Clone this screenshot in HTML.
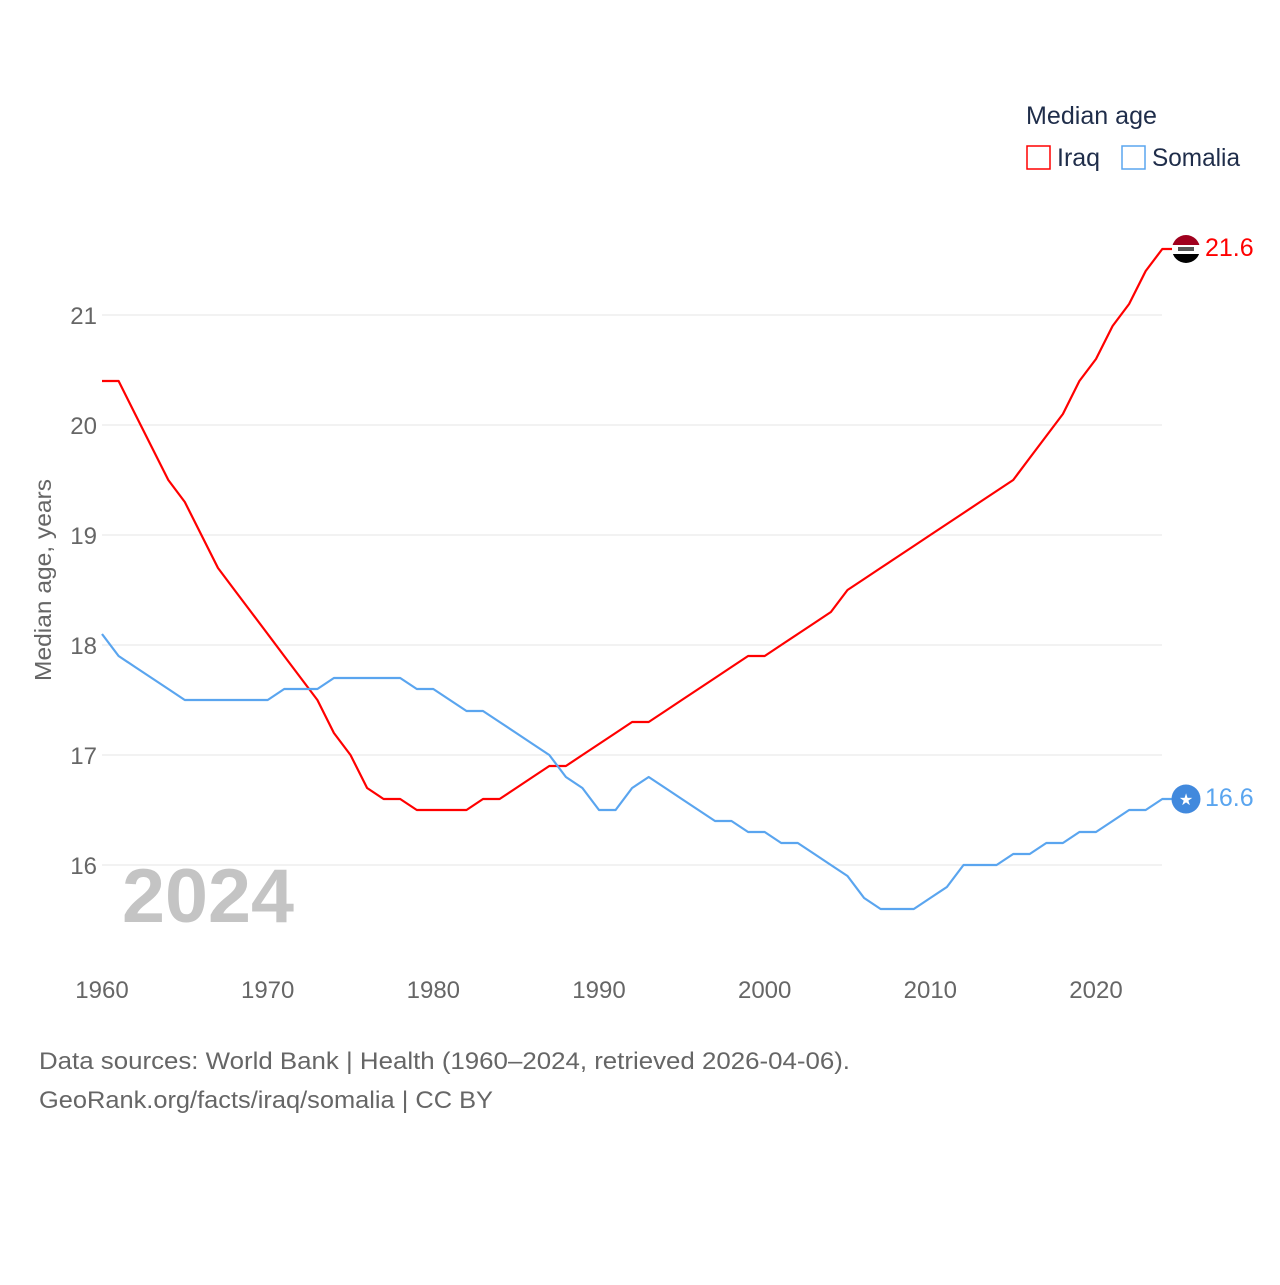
<!DOCTYPE html>
<html><head><meta charset="utf-8"><style>
body{margin:0;background:#fff;}
svg text{font-family:"Liberation Sans",sans-serif;}
</style></head><body>
<svg width="1280" height="1280" xmlns="http://www.w3.org/2000/svg">
<g id="grid"></g>
<g id="yticks"></g>
<g id="xticks"></g>
<text transform="translate(51,580) rotate(-90)" text-anchor="middle" font-size="23" fill="#666" textLength="202" lengthAdjust="spacingAndGlyphs">Median age, years</text>
<text x="122" y="922" font-size="76" font-weight="bold" fill="#c4c4c4" textLength="172" lengthAdjust="spacingAndGlyphs">2024</text>
<g id="series"></g>
<g>
<text x="1026" y="124" font-size="25" fill="#1f2d4a" textLength="131" lengthAdjust="spacingAndGlyphs">Median age</text>
<rect x="1027" y="146" width="23" height="23" fill="none" stroke="#ff0000" stroke-width="1.5"/>
<text x="1057" y="166" font-size="25" fill="#1f2d4a">Iraq</text>
<rect x="1122" y="146" width="23" height="23" fill="none" stroke="#5aa5ef" stroke-width="1.5"/>
<text x="1152" y="166" font-size="25" fill="#1f2d4a" textLength="88" lengthAdjust="spacingAndGlyphs">Somalia</text>
</g>
<text x="39" y="1069" font-size="24" fill="#666" textLength="811" lengthAdjust="spacingAndGlyphs">Data sources: World Bank | Health (1960–2024, retrieved 2026-04-06).</text>
<text x="39" y="1108" font-size="24" fill="#666" textLength="454" lengthAdjust="spacingAndGlyphs">GeoRank.org/facts/iraq/somalia | CC BY</text>
</svg>
<script>
const years=[];for(let y=1960;y<=2024;y++)years.push(y);
const iraq=[20.4,20.4,20.1,19.8,19.5,19.3,19.0,18.7,18.5,18.3,18.1,17.9,17.7,17.5,17.2,17.0,16.7,16.6,16.6,16.5,16.5,16.5,16.5,16.6,16.6,16.7,16.8,16.9,16.9,17.0,17.1,17.2,17.3,17.3,17.4,17.5,17.6,17.7,17.8,17.9,17.9,18.0,18.1,18.2,18.3,18.5,18.6,18.7,18.8,18.9,19.0,19.1,19.2,19.3,19.4,19.5,19.7,19.9,20.1,20.4,20.6,20.9,21.1,21.4,21.6];
const somalia=[18.1,17.9,17.8,17.7,17.6,17.5,17.5,17.5,17.5,17.5,17.5,17.6,17.6,17.6,17.7,17.7,17.7,17.7,17.7,17.6,17.6,17.5,17.4,17.4,17.3,17.2,17.1,17.0,16.8,16.7,16.5,16.5,16.7,16.8,16.7,16.6,16.5,16.4,16.4,16.3,16.3,16.2,16.2,16.1,16.0,15.9,15.7,15.6,15.6,15.6,15.7,15.8,16.0,16.0,16.0,16.1,16.1,16.2,16.2,16.3,16.3,16.4,16.5,16.5,16.6];
const yTicks=[16,17,18,19,20,21];
const xTicks=[1960,1970,1980,1990,2000,2010,2020];
const NS="http://www.w3.org/2000/svg";
const xs=y=>102+(y-1960)*(1096-102)/60;
const ys=v=>865-(v-16)*110;
function mk(tag,attrs,parent){const e=document.createElementNS(NS,tag);for(const k in attrs)e.setAttribute(k,attrs[k]);parent.appendChild(e);return e;}
const grid=document.getElementById('grid'),yt=document.getElementById('yticks'),xt=document.getElementById('xticks'),ser=document.getElementById('series');
yTicks.forEach(v=>{
 const l=mk('line',{x1:102,x2:1162,y1:ys(v),y2:ys(v),stroke:'#e6e6e6','stroke-width':1},grid);
 
 
 const t=mk('text',{x:97,y:ys(v)+9,'text-anchor':'end','font-size':24,fill:'#666'},yt);
 t.textContent=v;
 
 
});
xTicks.forEach(v=>{
 const t=mk('text',{x:xs(v),y:998,'text-anchor':'middle','font-size':24,fill:'#666'},xt);
 t.textContent=v;
 
 
});
function series(vals,color,name){
 let d=vals.map((v,i)=>(i?'L':'M')+xs(years[i]).toFixed(1)+' '+ys(v).toFixed(1)).join(' ');
 const last=vals[vals.length-1];
 d+=' L'+(xs(2024)+10)+' '+ys(last);
 const p=mk('path',{d:d,fill:'none',stroke:color,'stroke-width':2.2,'stroke-linejoin':'round'},ser);
 
 
 return last;
}
const li=series(iraq,'#ff0000','iraq');
const ls=series(somalia,'#5aa5ef','somalia');
const cx=1186;
const gi=mk('g',{},ser);


const cy=ys(li);
mk('clipPath',{id:'fc'},gi);
document.getElementById('fc').appendChild((()=>{const c=document.createElementNS(NS,'circle');c.setAttribute('cx',cx);c.setAttribute('cy',cy);c.setAttribute('r',14);return c;})());
const fg=mk('g',{'clip-path':'url(#fc)'},gi);
mk('rect',{x:cx-14,y:cy-14,width:28,height:10,fill:'#a0001e'},fg);
mk('rect',{x:cx-14,y:cy-4,width:28,height:9,fill:'#fff'},fg);
mk('rect',{x:cx-14,y:cy+5,width:28,height:10,fill:'#000'},fg);
mk('rect',{x:cx-8,y:cy-2,width:16,height:4,fill:'#555'},fg);
const ti=mk('text',{x:1205,y:cy+7,'font-size':25,fill:'#ff0000'},ser);
ti.textContent=li.toFixed(1);


const sy=ys(ls);
const cs=mk('circle',{cx:cx,cy:sy,r:14.5,fill:'#4189dd'},ser);


const st=mk('text',{x:cx,y:sy+6,'text-anchor':'middle','font-size':16,fill:'#fff'},ser);
st.textContent='★';


const ts=mk('text',{x:1205,y:sy+7,'font-size':25,fill:'#5aa5ef'},ser);
ts.textContent=ls.toFixed(1);


</script>
</body></html>
